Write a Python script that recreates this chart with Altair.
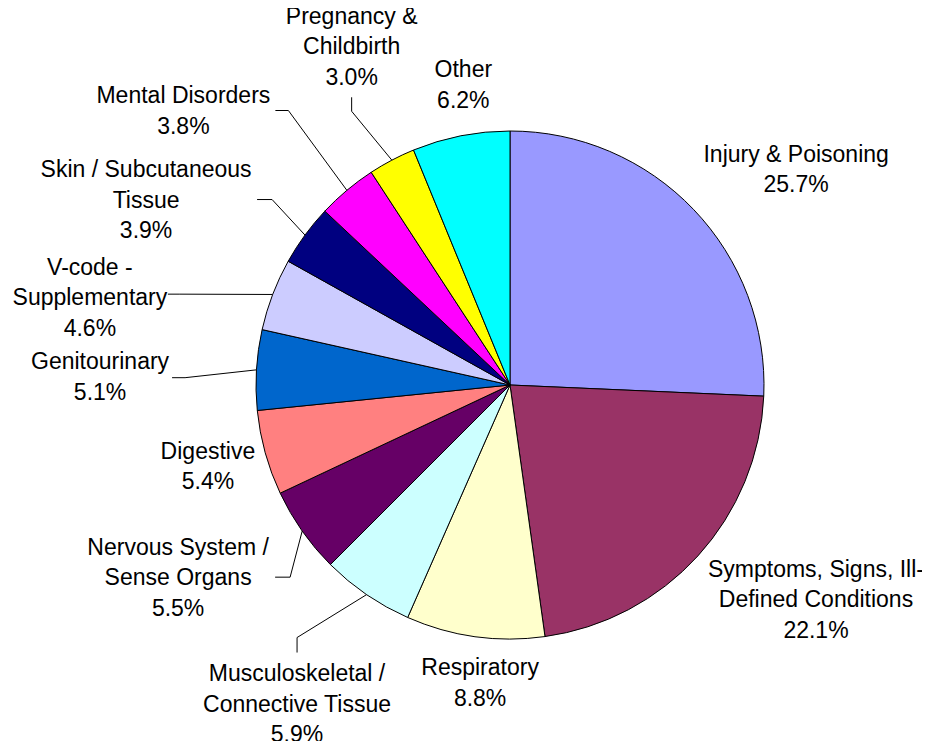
import math
import altair as alt
import pandas as pd

# ---- data ----
categories = [
    "Injury & Poisoning",
    "Symptoms, Signs, Ill-Defined Conditions",
    "Respiratory",
    "Musculoskeletal / Connective Tissue",
    "Nervous System / Sense Organs",
    "Digestive",
    "Genitourinary",
    "V-code - Supplementary",
    "Skin / Subcutaneous Tissue",
    "Mental Disorders",
    "Pregnancy & Childbirth",
    "Other",
]
label_names = [
    "Injury & Poisoning",
    "Symptoms, Signs, Ill-\nDefined Conditions",
    "Respiratory",
    "Musculoskeletal /\nConnective Tissue",
    "Nervous System /\nSense Organs",
    "Digestive",
    "Genitourinary",
    "V-code -\nSupplementary",
    "Skin / Subcutaneous\nTissue",
    "Mental Disorders",
    "Pregnancy &\nChildbirth",
    "Other",
]
shares = [25.7, 22.1, 8.8, 5.9, 5.5, 5.4, 5.1, 4.6, 3.9, 3.8, 3.0, 6.2]
colors = ["#9999FF", "#993366", "#FFFFCC", "#CCFFFF", "#660066", "#FF8080",
          "#0066CC", "#CCCCFF", "#000080", "#FF00FF", "#FFFF00", "#00FFFF"]

# ---- layout (label placement relative to each slice's mid-angle) ----
CX, CY, R = 502, 377, 254
LH = 30.5
label_radius = [358, 374, 300, 384, 384, 313, 410, 429, 408, 426, 373, 303]
label_shift = [6.8, -7.2, -2.2, -0.7, 4.9, 0.3, -2.4, -9.2, -9.3, -10.1, 2.6, 2.3]
# leader: index -> (label end offset, elbow offset) relative to label block center
leaders = {
    3: ((0, -52), (0, -67)),
    4: ((97, -1), (112, -1)),
    6: ((72, 0), (85, 0)),
    7: ((78, -4), (90, -4)),
    8: ((111, -1), (126, -1)),
    9: ((92, -1), (105, -1)),
    10: ((0, 50), (0, 64)),
}

total = sum(shares)
cum = 0.0
mids = []
for v in shares:
    mids.append((cum + v / 2) / total * 360.0)
    cum += v

pie_df = pd.DataFrame({"cat": categories, "value": shares, "idx": list(range(len(shares)))})

lab_rows = []
lead_rows = []
for i, (name, v) in enumerate(zip(label_names, shares)):
    a = math.radians(mids[i] + label_shift[i])
    lx = CX + label_radius[i] * math.sin(a)
    ly = CY - label_radius[i] * math.cos(a)
    txt = f"{name}\n{v:.1f}%"
    n = txt.count("\n") + 1
    lab_rows.append({"x": lx, "y": ly - (n - 1) * LH / 2, "text": txt})
    if i in leaders:
        (ex, ey), (bx, by) = leaders[i]
        am = math.radians(mids[i])
        sx = CX + R * math.sin(am)
        sy = CY - R * math.cos(am)
        for k, (px, py) in enumerate([(lx + ex, ly + ey), (lx + bx, ly + by), (sx, sy)]):
            lead_rows.append({"id": i, "k": k, "x": px, "y": py})

lab_df = pd.DataFrame(lab_rows)
lead_df = pd.DataFrame(lead_rows)

pie = alt.Chart(pie_df).mark_arc(radius=R, stroke="black", strokeWidth=1).encode(
    theta=alt.Theta("value:Q", stack=True),
    order=alt.Order("idx:Q"),
    color=alt.Color("cat:N", scale=alt.Scale(domain=categories, range=colors), legend=None),
    x=alt.value(CX),
    y=alt.value(CY),
)

lines = alt.Chart(lead_df).mark_line(color="black", strokeWidth=1).encode(
    x=alt.X("x:Q", scale=None, axis=None),
    y=alt.Y("y:Q", scale=None, axis=None),
    detail="id:N",
    order="k:Q",
)

labels = alt.Chart(lab_df).mark_text(
    font="Liberation Sans", fontSize=23, lineHeight=LH, lineBreak="\n",
    align="center", baseline="middle", color="black",
).encode(
    x=alt.X("x:Q", scale=None, axis=None),
    y=alt.Y("y:Q", scale=None, axis=None),
    text="text:N",
)

chart = alt.layer(pie, lines, labels).properties(
    width=914, height=733, padding=0,
    autosize=alt.AutoSizeParams(type="none"),
    background="white",
).configure_view(stroke=None)

chart.save("out.html", embed_options={"renderer": "svg", "actions": False})
